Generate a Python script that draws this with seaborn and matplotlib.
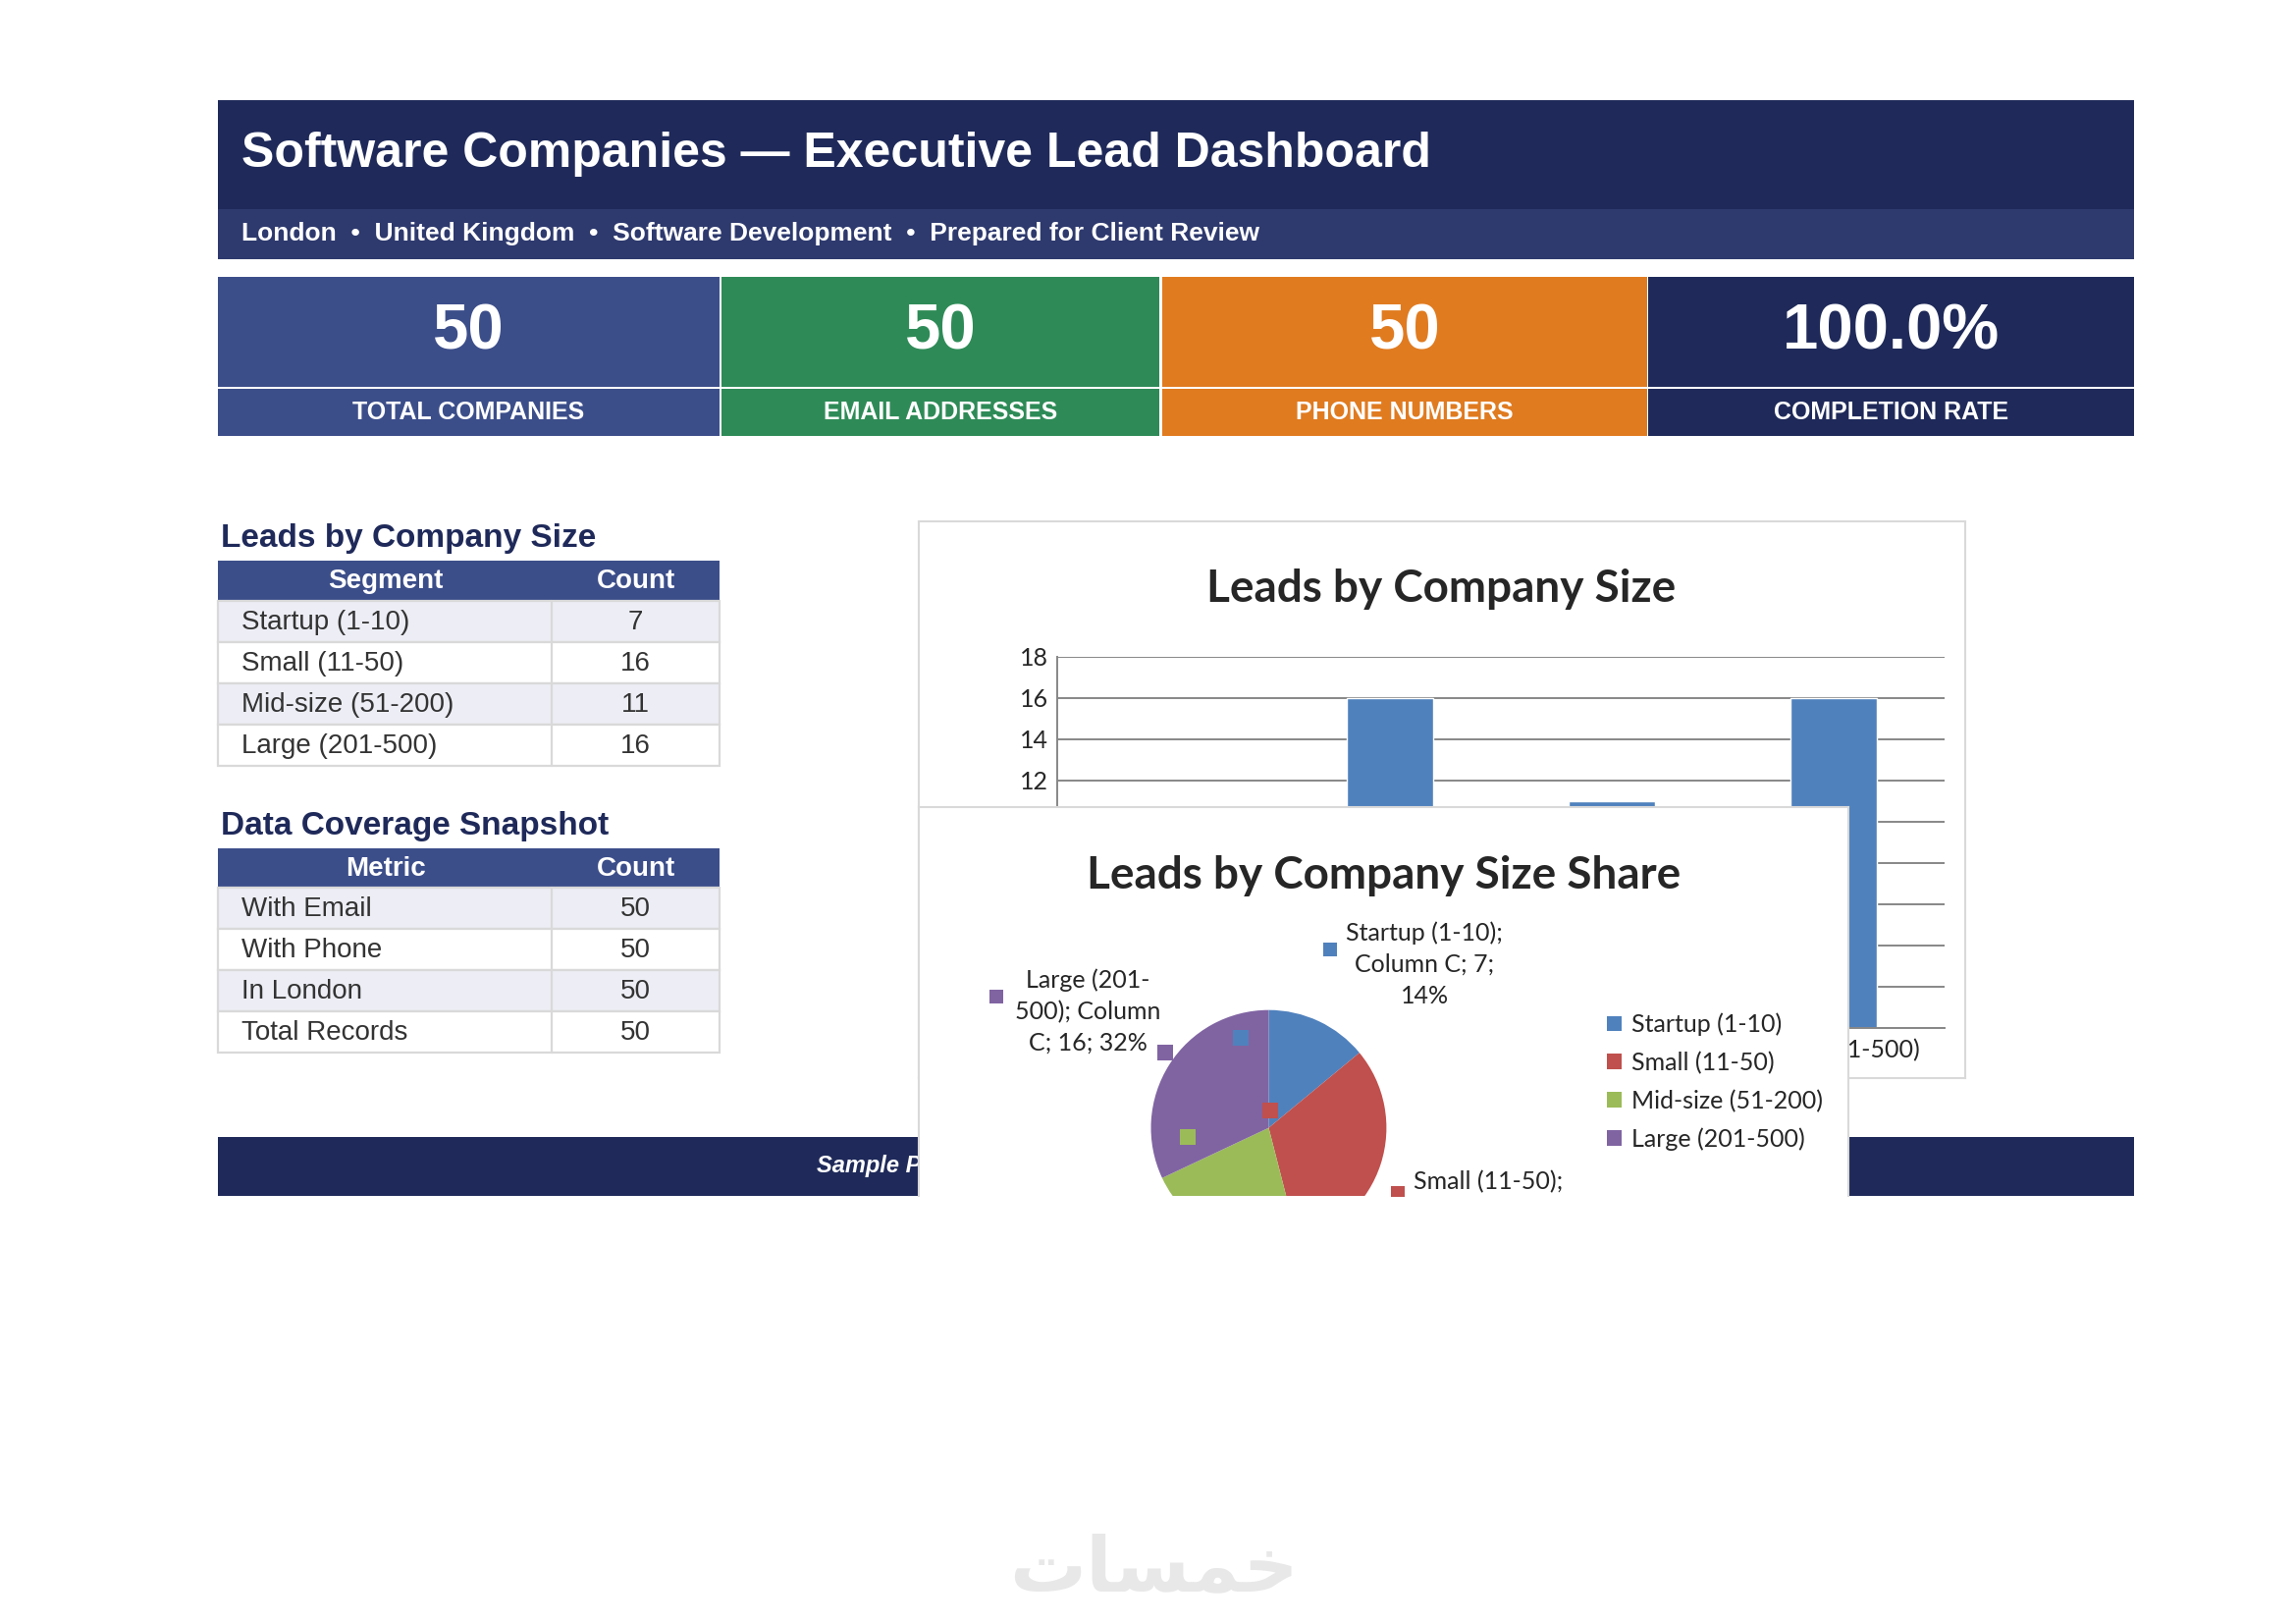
import matplotlib
matplotlib.use('Agg')
import matplotlib.pyplot as plt
from matplotlib.patches import Rectangle
import seaborn as sns

# ---- data ----
title = 'Software Companies — Executive Lead Dashboard'
subtitle_parts = ['London', 'United Kingdom', 'Software Development', 'Prepared for Client Review']
kpi_values = ['50', '50', '50', '100.0%']
kpi_labels = ['TOTAL COMPANIES', 'EMAIL ADDRESSES', 'PHONE NUMBERS', 'COMPLETION RATE']
segments = ['Startup (1-10)', 'Small (11-50)', 'Mid-size (51-200)', 'Large (201-500)']
segment_counts = [7, 16, 11, 16]
metrics = ['With Email', 'With Phone', 'In London', 'Total Records']
metric_counts = [50, 50, 50, 50]
pie_labels = ['Startup (1-10);\nColumn C; 7;\n14%',
              'Small (11-50);\nColumn C; 16;\n32%',
              'Mid-size (51-200);\nColumn C; 11;\n22%',
              'Large (201-\n500); Column\nC; 16; 32%']
footer_text = 'Sample Preview — Full Dataset Available on Request'
# watermark "خمسات", written in shaped presentation forms (visual order) since matplotlib does no Arabic shaping
watermark = '\uFE95\uFE8E\uFEB4\uFEE4\uFEA7'

NAVY = '#1F2A5A'
SUBBAR = '#2E3A6E'
HEAD = '#3C4E8A'
LIGHT = '#EDEEF5'
GRID = '#D9D9D9'
kpi_colors = ['#3C4E8A', '#2E8B57', '#E07B20', '#1F2A5A']
pie_colors = ['#4F81BD', '#C0504D', '#9BBB59', '#8064A2']

sns.set_style('white')
plt.rcParams['font.family'] = ['Liberation Sans', 'DejaVu Sans']
CHART_FONT = ['Lato', 'DejaVu Sans']

# layout is worked out in a 1560 x 1103 grid, y going down
W, H = 1560, 1103


def frac(x0, y0, x1, y1):
    return [x0 / W, 1 - y1 / H, (x1 - x0) / W, (y1 - y0) / H]


fig = plt.figure(figsize=(23.39, 16.54), dpi=100)
page = fig.add_axes([0, 0, 1, 1], zorder=0)
page.set_xlim(0, W)
page.set_ylim(H, 0)
page.axis('off')


def rect(x0, y0, x1, y1, color, ec='none', lw=0):
    page.add_patch(Rectangle((x0, y0), x1 - x0, y1 - y0, facecolor=color, edgecolor=ec, lw=lw))


# header
rect(148, 68, 1450, 142, NAVY)
rect(148, 142, 1450, 176, SUBBAR)
page.text(164, 105, title, color='white', fontsize=36, fontweight='bold', va='center')
page.text(164, 159, '  •  '.join(subtitle_parts), color='white', fontsize=19,
          fontweight='bold', va='center')

# KPI tiles
kpi_x = [(148, 489), (490, 788), (790, 1119), (1120, 1450)]
for (x0, x1), val, lab, col in zip(kpi_x, kpi_values, kpi_labels, kpi_colors):
    rect(x0, 188, x1, 263, col)
    rect(x0, 264, x1, 296, col)
    page.text((x0 + x1) / 2, 226, val, color='white', fontsize=47, fontweight='bold',
              ha='center', va='center')
    page.text((x0 + x1) / 2, 280, lab, color='white', fontsize=18, fontweight='bold',
              ha='center', va='center')


def table(top, heading, first_col, names, values):
    page.text(150, top - 15, heading, color=NAVY, fontsize=24, fontweight='bold', va='center')
    rect(148, top, 489, top + 27, HEAD)
    page.text(262, top + 14, first_col, color='white', fontsize=20, fontweight='bold',
              ha='center', va='center')
    page.text(432, top + 14, 'Count', color='white', fontsize=20, fontweight='bold',
              ha='center', va='center')
    for i, (n, v) in enumerate(zip(names, values)):
        y0 = top + 27 + 28 * i
        rect(148, y0, 489, y0 + 28, LIGHT if i % 2 == 0 else 'white', ec=GRID, lw=1.6)
        page.plot([375, 375], [y0, y0 + 28], color=GRID, lw=1.6)
        page.text(164, y0 + 14.5, n, color='#333333', fontsize=20, va='center')
        page.text(432, y0 + 14.5, str(v), color='#333333', fontsize=20, ha='center', va='center')


table(381, 'Leads by Company Size', 'Segment', segments, segment_counts)
table(576, 'Data Coverage Snapshot', 'Metric', metrics, metric_counts)

# footer band (the pie panel sits on top of part of it)
rect(148, 772, 1450, 812, NAVY)
page.text(555, 792, footer_text, color='white', fontsize=17, fontweight='bold',
          fontstyle='italic', va='center')

page.text(784, 1066, watermark, color='#E8E8E8', fontsize=56, fontweight='bold',
          ha='center', va='center', family=['DejaVu Sans'])

# ---- bar chart panel ----
bar_panel = fig.add_axes(frac(624, 354, 1335, 732), zorder=1)
bar_panel.set_xlim(624, 1335)
bar_panel.set_ylim(732, 354)
bar_panel.set_xticks([])
bar_panel.set_yticks([])
bar_panel.set_facecolor('white')
for s in bar_panel.spines.values():
    s.set_color(GRID)
    s.set_linewidth(1.5)
bar_panel.text(979, 400, 'Leads by Company Size', fontsize=33, fontweight='bold',
               ha='center', va='center', family=CHART_FONT)

bar_ax = fig.add_axes(frac(718, 446, 1321, 698), zorder=2)
bar_ax.patch.set_alpha(0)
sns.barplot(x=segments, y=segment_counts, color=pie_colors[0], saturation=1,
            width=0.39, ax=bar_ax)
bar_ax.set_ylim(0, 18)
bar_ax.set_yticks(range(0, 19, 2))
bar_ax.yaxis.grid(True, color='#878787', lw=1.4)
bar_ax.set_axisbelow(True)
bar_ax.set_xlabel('')
bar_ax.set_ylabel('')
for side in ['top', 'right']:
    bar_ax.spines[side].set_visible(False)
for side in ['left', 'bottom']:
    bar_ax.spines[side].set_color('#878787')
    bar_ax.spines[side].set_linewidth(1.4)
bar_ax.tick_params(axis='both', length=0, labelsize=18)
bar_ax.tick_params(axis='y', pad=6)
bar_ax.tick_params(axis='x', pad=8)
for lab in bar_ax.get_xticklabels() + bar_ax.get_yticklabels():
    lab.set_family(CHART_FONT)

# ---- pie chart panel (y going up here so the pie keeps its orientation) ----
pie_ax = fig.add_axes(frac(624, 548, 1256, 812), zorder=3)
cx, cy, r = 862, H - 766, 80
wedges, _ = pie_ax.pie(segment_counts, colors=pie_colors, startangle=90, counterclock=False,
                       center=(cx, cy), radius=r, wedgeprops=dict(linewidth=0))
for w in wedges:
    w.set_clip_on(True)
    w.set_clip_path(pie_ax.patch)
pie_ax.set_aspect('auto')
pie_ax.set_frame_on(True)
pie_ax.set_xlim(624, 1256)
pie_ax.set_ylim(H - 812, H - 548)
pie_ax.set_xticks([])
pie_ax.set_yticks([])
pie_ax.set_facecolor('white')
for side, s in pie_ax.spines.items():
    s.set_color(GRID)
    s.set_linewidth(1.5)
pie_ax.spines['bottom'].set_visible(False)

pie_ax.text(940, H - 595, 'Leads by Company Size Share', fontsize=33, fontweight='bold',
            ha='center', va='center', family=CHART_FONT)

label_xy = [(968, 655), (1011, 824), (740, 850), (739, 687)]
key_xy = [(904, 645), (950, 810), (690, 840), (677, 677)]
inner_xy = [(843, 705), (863, 754), (807, 772), (792, 715)]
for i, txt in enumerate(pie_labels):
    lx, ly = label_xy[i]
    pie_ax.text(lx, H - ly, txt, fontsize=18, ha='center', va='center', linespacing=1.45,
                family=CHART_FONT, clip_on=True)
    kx, ky = key_xy[i]
    pie_ax.scatter([kx], [H - ky], marker='s', s=110, color=pie_colors[i], lw=0, clip_on=True,
                   zorder=5)
    ix, iy = inner_xy[i]
    pie_ax.scatter([ix], [H - iy], marker='s', s=130, color=pie_colors[i], lw=0, clip_on=True,
                   zorder=5)

leg = pie_ax.legend(wedges, segments, loc='upper left', frameon=False, fontsize=18,
                    handlelength=0.6, handleheight=0.6, handletextpad=0.4, labelspacing=0.62,
                    borderaxespad=0, borderpad=0)
leg.set_bbox_to_anchor((1092 / W, 1 - 688 / H), transform=fig.transFigure)
for t in leg.get_texts():
    t.set_family(CHART_FONT)

fig.savefig('out.png', dpi=100, facecolor='white')
